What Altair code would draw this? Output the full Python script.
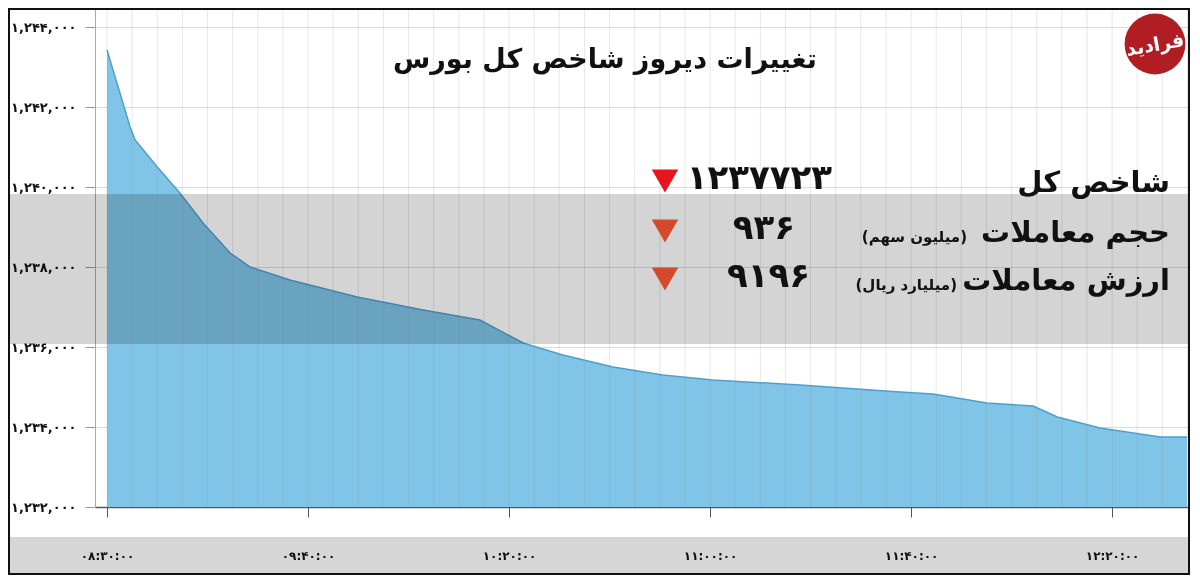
import altair as alt
import pandas as pd

# ---- data ----
minutes = [0, 4.6, 5.6, 10.0, 14.5, 19.1, 24.5, 28.5, 36.4, 49.8, 62.9, 74.2, 82.8,
           90.7, 100.7, 110.6, 120.6, 137.9, 157.8, 164.4, 175.1, 184.3, 189.1,
           197.6, 209.6, 214.9]
index_values = [1243425, 1241500, 1241175, 1240500, 1239850, 1239100, 1238350,
                1238000, 1237675, 1237250, 1236925, 1236675, 1236100, 1235800,
                1235500, 1235300, 1235175, 1235050, 1234875, 1234825, 1234600,
                1234525, 1234250, 1233975, 1233750, 1233750]

x_tick_values = [0, 40, 80, 120, 160, 200]
x_tick_labels = ["۰۸:۳۰:۰۰", "۰۹:۴۰:۰۰", "۱۰:۲۰:۰۰", "۱۱:۰۰:۰۰", "۱۱:۴۰:۰۰", "۱۲:۲۰:۰۰"]
y_tick_values = [1232000, 1234000, 1236000, 1238000, 1240000, 1242000, 1244000]
y_tick_labels = ["۱,۲۳۲,۰۰۰", "۱,۲۳۴,۰۰۰", "۱,۲۳۶,۰۰۰", "۱,۲۳۸,۰۰۰",
                 "۱,۲۴۰,۰۰۰", "۱,۲۴۲,۰۰۰", "۱,۲۴۴,۰۰۰"]
grid_minutes = list(range(0, 216, 5))

title_text = "تغییرات دیروز شاخص کل بورس"
summary_labels = ["شاخص کل", "حجم معاملات", "ارزش معاملات"]
summary_units = ["", "(میلیون سهم)", "(میلیارد ریال)"]
summary_values = ["۱۲۳۷۷۲۳", "۹۳۶", "۹۱۹۶"]
logo_text = "فرادید"

FONT = "DejaVu Sans"
W, H = 1095, 499
PL, PB = 87, 68

df = pd.DataFrame({"minute": minutes, "value": index_values})
grid_df = pd.DataFrame({"m": grid_minutes})


def js_list(items):
    return "[" + ",".join(repr(i) if isinstance(i, str) else str(i) for i in items) + "]"


x_expr = f"{js_list(x_tick_labels)}[indexof({js_list(x_tick_values)}, datum.value)]"
y_expr = f"{js_list(y_tick_labels)}[indexof({js_list(y_tick_values)}, datum.value)]"

x_enc = alt.X(
    "minute:Q",
    scale=alt.Scale(domain=[-2.39, 215.5], nice=False, zero=False),
    axis=alt.Axis(values=x_tick_values, labelExpr=x_expr, grid=False, tickSize=10,
                  domainColor="#555", tickColor="#555", domainWidth=1.5,
                  labelFont=FONT, labelFontWeight="bold", labelFontSize=12,
                  labelColor="#111", labelPadding=38, labelBaseline="middle",
                  title=None),
)
y_enc = alt.Y(
    "value:Q",
    scale=alt.Scale(domain=[1232000, 1244475], nice=False, zero=False),
    axis=alt.Axis(values=y_tick_values, labelExpr=y_expr, grid=True, gridColor="#dcdcdc",
                  tickSize=10, tickColor="#999", domainColor="#aaa",
                  labelFont=FONT, labelFontWeight="bold", labelFontSize=13,
                  labelColor="#111", labelPadding=9, title=None),
)

one = alt.Data(values=[{"k": 1}])

area = alt.Chart(df).mark_area(
    color="#80c4e7", line={"color": "#4f9fcd", "strokeWidth": 1.5}, opacity=1
).encode(x=x_enc, y=y_enc, y2=alt.datum(1232000))

grid = alt.Chart(grid_df).mark_rule(color="#8c8c8c", opacity=0.2, strokeWidth=1).encode(
    x=alt.X("m:Q"), y=alt.value(0), y2=alt.value(H)
)

band = alt.Chart(one).mark_rect(color="#d4d4d4", blend="multiply").encode(
    x=alt.value(-PL), x2=alt.value(W), y=alt.value(186), y2=alt.value(336)
)
axis_band = alt.Chart(one).mark_rect(color="#d6d6d6", blend="multiply").encode(
    x=alt.value(-PL), x2=alt.value(W), y=alt.value(529), y2=alt.value(H + PB)
)
frame = alt.Chart(one).mark_rect(fillOpacity=0, stroke="#111", strokeWidth=2).encode(
    x=alt.value(-PL + 1), x2=alt.value(W - 1), y=alt.value(1), y2=alt.value(H + PB - 1)
)

layers = [area, grid, band, axis_band, frame]

layers.append(alt.Chart(one).mark_text(
    text=title_text, font=FONT, fontWeight="bold", fontSize=27, color="#111",
    align="center", baseline="middle").encode(x=alt.value(510), y=alt.value(52)))

row_y = [175, 225, 273]
tri_colors = ["#e8141b", "#d64a2a", "#d64a2a"]
unit_x = [0, 872, 862]
for i in range(3):
    layers.append(alt.Chart(one).mark_text(
        text=summary_labels[i], font=FONT, fontWeight="bold", fontSize=29, color="#111",
        align="right", baseline="middle").encode(x=alt.value(1075), y=alt.value(row_y[i])))
    if summary_units[i]:
        layers.append(alt.Chart(one).mark_text(
            text="\u200f" + summary_units[i] + "\u200f", font=FONT, fontWeight="bold",
            fontSize=15, color="#111", align="right", baseline="middle").encode(
            x=alt.value(unit_x[i]), y=alt.value(row_y[i] + 4)))
    layers.append(alt.Chart(one).mark_text(
        text=summary_values[i], font=FONT, fontWeight="bold", fontSize=34, color="#111",
        align="right", baseline="middle").encode(
        x=alt.value([737, 700, 715][i]), y=alt.value(row_y[i] - 4)))
    layers.append(alt.Chart(one).mark_point(
        shape="triangle-down", filled=True, size=700, color=tri_colors[i], opacity=1).encode(
        x=alt.value(570), y=alt.value(row_y[i] - 2)))

layers.append(alt.Chart(one).mark_point(
    shape="circle", filled=True, size=3700, color="#b01e23", opacity=1).encode(
    x=alt.value(1060), y=alt.value(36)))
layers.append(alt.Chart(one).mark_text(
    text=logo_text, font=FONT, fontWeight="bold", fontSize=19, color="white",
    align="center", baseline="middle", angle=350).encode(x=alt.value(1060), y=alt.value(37)))

chart = alt.layer(*layers).properties(
    width=W, height=H,
    padding={"left": PL, "top": 0, "right": 0, "bottom": PB},
    autosize=alt.AutoSizeParams(type="none"),
    background="white",
).configure_view(stroke=None)

chart.save("out.html", embed_options={"renderer": "svg", "actions": False})
